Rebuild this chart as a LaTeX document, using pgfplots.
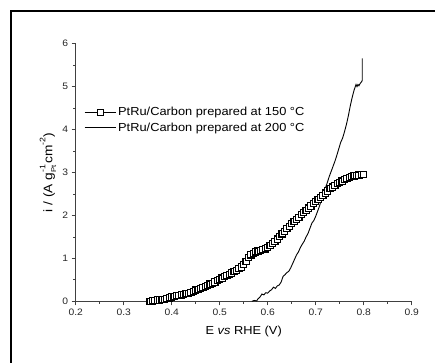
\documentclass[border=0pt]{standalone}
\usepackage{pgfplots}
\pgfplotsset{compat=1.18}
\usepackage{fontspec}
\setmainfont{Liberation Sans}[FakeStretch=1.1]
\begin{document}
\begin{tikzpicture}[x=1bp,y=1bp]
\useasboundingbox (-75.7,-60.7) rectangle (359.3,301.3);
\draw[line width=1.8bp] (-64.7,-90) -- (-64.7,290.3) -- (400,290.3);
\begin{axis}[
  anchor=south west,
  scale only axis, width=336bp, height=257.6bp,
  xmin=0.2, xmax=0.9, ymin=0, ymax=6,
  axis x line*=bottom, axis y line*=left,
  axis line style={black!75, line width=0.9bp},
  xtick={0.2,0.3,...,0.9}, ytick={0,1,...,6},
  minor x tick num=1, minor y tick num=1,
  tick align=outside,
  major tick length=4bp, minor tick length=2.5bp,
  every tick/.style={black!75, line width=0.8bp},
  tick label style={font=\fontsize{9.4}{11}\selectfont, text=black!85},
  /pgf/number format/assume math mode=true,
  xticklabels={0.2,0.3,0.4,0.5,0.6,0.7,0.8,0.9},
  xlabel={E \textit{vs} RHE (V)},
  ylabel={i / (A g\rlap{\raisebox{0.55em}{\fontsize{8}{8}\selectfont -1}}\raisebox{-0.3em}{\fontsize{7}{7}\selectfont Pt}\,cm\raisebox{0.55em}{\fontsize{8}{8}\selectfont -2})},
  every axis x label/.style={at={(axis description cs:0.5,-0.1153)}, anchor=center, font=\fontsize{11.7}{14}\selectfont},
  every axis y label/.style={at={(axis description cs:-0.0824,0.5)}, anchor=center, rotate=90, font=\fontsize{12.5}{14}\selectfont},
  legend style={draw=none, fill=none, font=\fontsize{11.7}{14}\selectfont,
    at={(axis description cs:0.025,0.762)}, anchor=north west,
    row sep=1.7bp, inner sep=0pt},
  legend cell align=left,
  legend image code/.code={\draw[mark repeat=2,mark phase=2] plot coordinates {(0bp,0bp) (15.5bp,0bp) (31bp,0bp)};},
]
\addplot[black, line width=0.8bp, mark=square*, mark size=3.1bp,
  mark options={fill=white, line width=1.1bp, solid}] coordinates {
(0.355,0.00)(0.36,0.01)(0.365,0.02)(0.37,0.03)(0.375,0.03)(0.38,0.04)(0.385,0.05)(0.39,0.06)(0.395,0.08)
(0.40,0.10)(0.405,0.12)(0.41,0.13)(0.415,0.14)(0.42,0.15)(0.425,0.16)(0.43,0.18)(0.435,0.19)(0.44,0.21)
(0.445,0.23)(0.45,0.26)(0.455,0.28)(0.46,0.30)(0.465,0.32)(0.47,0.35)(0.475,0.37)(0.48,0.40)(0.485,0.42)
(0.49,0.45)(0.495,0.48)(0.50,0.51)(0.505,0.54)(0.51,0.57)(0.515,0.60)(0.52,0.63)(0.525,0.66)(0.53,0.69)
(0.535,0.72)(0.54,0.76)(0.545,0.80)(0.55,0.85)(0.555,0.92)(0.56,1.02)(0.565,1.08)(0.57,1.12)(0.575,1.15)
(0.58,1.17)(0.585,1.19)(0.59,1.20)(0.595,1.22)(0.60,1.25)(0.605,1.30)(0.61,1.35)(0.615,1.40)(0.62,1.45)
(0.625,1.51)(0.63,1.57)(0.635,1.63)(0.64,1.69)(0.645,1.75)(0.65,1.81)(0.655,1.86)(0.66,1.91)(0.665,1.96)
(0.67,2.02)(0.675,2.07)(0.68,2.12)(0.685,2.17)(0.69,2.22)(0.695,2.27)(0.70,2.32)(0.705,2.37)(0.71,2.42)
(0.715,2.47)(0.72,2.52)(0.725,2.57)(0.73,2.62)(0.735,2.66)(0.74,2.70)(0.745,2.74)(0.75,2.77)(0.755,2.80)
(0.76,2.83)(0.765,2.86)(0.77,2.89)(0.775,2.91)(0.78,2.92)(0.785,2.93)(0.79,2.94)(0.795,2.95)(0.80,2.96)
};
\addlegendentry{PtRu/Carbon prepared at 150 °C}
\addplot[black, line width=0.9bp, mark=none] coordinates {
(0.567,0.00)(0.572,0.02)(0.577,0.01)(0.580,0.06)(0.584,0.10)(0.588,0.17)(0.592,0.15)(0.596,0.20)
(0.600,0.19)(0.604,0.24)(0.608,0.27)(0.612,0.33)(0.616,0.30)(0.620,0.36)(0.624,0.38)(0.628,0.45)
(0.632,0.58)(0.636,0.62)(0.640,0.67)(0.644,0.70)(0.648,0.78)(0.652,0.88)(0.656,0.98)(0.660,1.08)
(0.664,1.15)(0.668,1.25)(0.672,1.33)(0.676,1.40)(0.680,1.50)(0.684,1.58)(0.688,1.70)(0.692,1.82)
(0.696,1.88)(0.700,1.98)(0.704,2.10)(0.708,2.22)(0.712,2.38)(0.716,2.50)(0.720,2.63)(0.724,2.76)
(0.728,2.90)(0.732,3.02)(0.736,3.14)(0.740,3.26)(0.744,3.40)(0.748,3.55)(0.752,3.70)(0.756,3.80)
(0.760,3.95)(0.764,4.12)(0.768,4.32)(0.772,4.55)(0.776,4.75)(0.780,4.92)(0.784,5.05)(0.786,5.00)
(0.788,5.05)(0.790,5.02)(0.793,5.08)(0.796,5.12)(0.797,5.15)(0.797,5.40)(0.797,5.66)
};
\addlegendentry{PtRu/Carbon prepared at 200 °C}
\end{axis}
\end{tikzpicture}
\end{document}
